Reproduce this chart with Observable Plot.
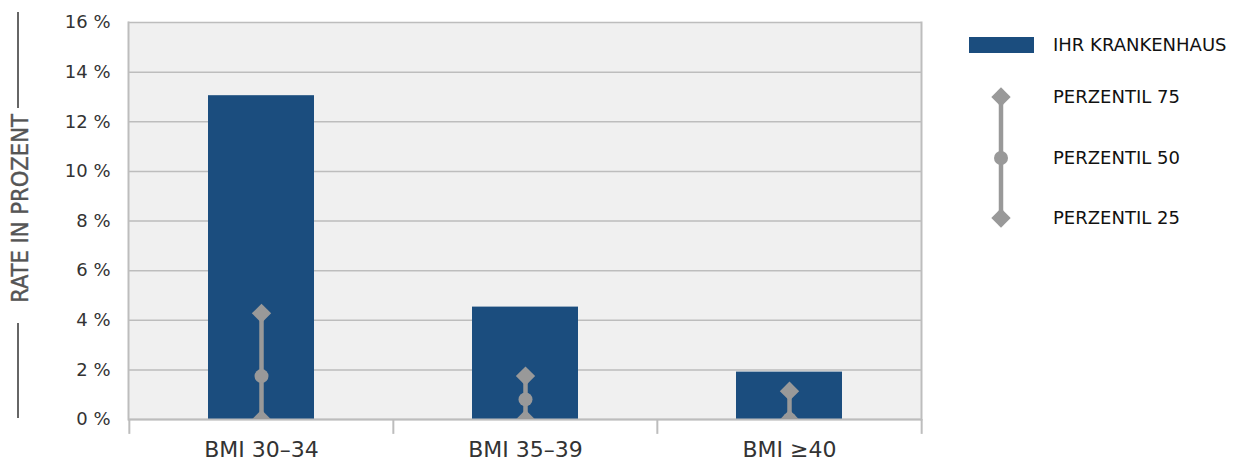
<!DOCTYPE html>
<html>
<head>
<meta charset="utf-8">
<script src="https://cdn.jsdelivr.net/npm/d3@7"></script>
<script src="https://cdn.jsdelivr.net/npm/@observablehq/plot@0.6"></script>
<style>
  html, body { margin: 0; padding: 0; background: #fff; }
  #chart { width: 1240px; height: 463px; }
</style>
</head>
<body>
<div id="chart"></div>
<script>
const categories = ["BMI 30–34", "BMI 35–39", "BMI ≥40"];
const hospitalRate = [13.05, 4.53, 1.91];
const perzentil75 = [4.28, 1.75, 1.14];
const perzentil50 = [1.75, 0.81, 0.0];
const perzentil25 = [0.0, 0.0, 0.0];
const yTicks = [0, 2, 4, 6, 8, 10, 12, 14, 16];
const legendLabels = ["IHR KRANKENHAUS", "PERZENTIL 75", "PERZENTIL 50", "PERZENTIL 25"];
const yTitle = "RATE IN PROZENT";

const data = categories.map((c, i) => ({
  cat: c, value: hospitalRate[i], p75: perzentil75[i], p50: perzentil50[i], p25: perzentil25[i]
}));

const W = 1240, H = 463, mL = 128, mR = 319, mT = 22, mB = 44;
const step = (W - mL - mR) / categories.length;
const barColor = "#1b4d7e";
const pctColor = "#999999";
const gridColor = "#bdbdbd";
const diaR = 8.7;

const plot = Plot.plot({
  width: W, height: H,
  marginLeft: mL, marginRight: mR, marginTop: mT, marginBottom: mB,
  style: { fontFamily: "DejaVu Sans", background: "#fff", overflow: "visible" },
  x: { domain: categories, paddingInner: 0.6, paddingOuter: 0.3 },
  y: { domain: [0, 16] },
  marks: [
    Plot.frame({ fill: "#f0f0f0", stroke: null }),
    Plot.gridY(yTicks, { stroke: gridColor, strokeOpacity: 1, strokeWidth: 1.5 }),
    Plot.frame({ anchor: "left", stroke: gridColor, strokeWidth: 2 }),
    Plot.frame({ anchor: "right", stroke: gridColor, strokeWidth: 2 }),
    Plot.ruleX(categories, { x: d => d, dx: -step / 2, y1: 0, y2: -0.6, stroke: gridColor, strokeWidth: 2 }),
    Plot.ruleX(categories.slice(-1), { x: d => d, dx: step / 2, y1: 0, y2: -0.6, stroke: gridColor, strokeWidth: 2 }),
    Plot.barY(data, { x: "cat", y: "value", fill: barColor }),
    Plot.ruleY([0], { stroke: gridColor, strokeWidth: 2 }),
    Plot.ruleX(data, { x: "cat", y1: "p25", y2: "p75", stroke: pctColor, strokeWidth: 4.5 }),
    Plot.dot(data, { x: "cat", y: "p25", symbol: "diamond2", r: diaR, fill: pctColor, stroke: null, clip: true }),
    Plot.dot(data, { x: "cat", y: "p50", symbol: "circle", r: 7, fill: pctColor, stroke: null, clip: true }),
    Plot.dot(data, { x: "cat", y: "p75", symbol: "diamond2", r: diaR, fill: pctColor, stroke: null, clip: true }),
    Plot.axisY({ ticks: yTicks, tickFormat: d => d + " %", tickSize: 0, tickPadding: 18, fontSize: 18, fill: "#333", label: null }),
    Plot.axisX({ tickSize: 0, tickPadding: 22, fontSize: 22, fill: "#333", label: null })
  ]
});

document.getElementById("chart").appendChild(plot);

const svg = d3.select(plot);

// Y axis title with lines
const titleG = svg.append("g");
titleG.append("line").attr("x1", 18).attr("x2", 18).attr("y1", 12).attr("y2", 108)
  .attr("stroke", "#666").attr("stroke-width", 2);
titleG.append("line").attr("x1", 18).attr("x2", 18).attr("y1", 323).attr("y2", 418)
  .attr("stroke", "#666").attr("stroke-width", 2);
titleG.append("text")
  .attr("transform", "translate(27.5,208.5) rotate(-90)")
  .attr("text-anchor", "middle")
  .attr("font-family", "DejaVu Sans Condensed, DejaVu Sans")
  .attr("font-stretch", "condensed")
  .attr("font-size", 23.5)
  .attr("fill", "#555")
  .attr("stroke", "#555")
  .attr("stroke-width", 0.4)
  .text(yTitle);

// Legend
const lg = svg.append("g")
  .attr("font-family", "DejaVu Sans")
  .attr("font-size", 18)
  .attr("text-anchor", "start");
lg.append("rect").attr("x", 969).attr("y", 37).attr("width", 65).attr("height", 16).attr("fill", barColor);
lg.append("line").attr("x1", 1001).attr("x2", 1001).attr("y1", 97).attr("y2", 218)
  .attr("stroke", pctColor).attr("stroke-width", 4.5);
const dia = d3.symbol(d3.symbolDiamond2, Math.PI * diaR * diaR);
lg.append("path").attr("d", dia()).attr("transform", "translate(1001,97)").attr("fill", pctColor);
lg.append("circle").attr("cx", 1001).attr("cy", 158).attr("r", 7).attr("fill", pctColor);
lg.append("path").attr("d", dia()).attr("transform", "translate(1001,218)").attr("fill", pctColor);
const ys = [45, 97, 158, 218];
legendLabels.forEach((t, i) => {
  lg.append("text").attr("x", 1053).attr("y", ys[i]).attr("dy", "0.35em").attr("fill", "#111").text(t);
});
</script>
</body>
</html>
